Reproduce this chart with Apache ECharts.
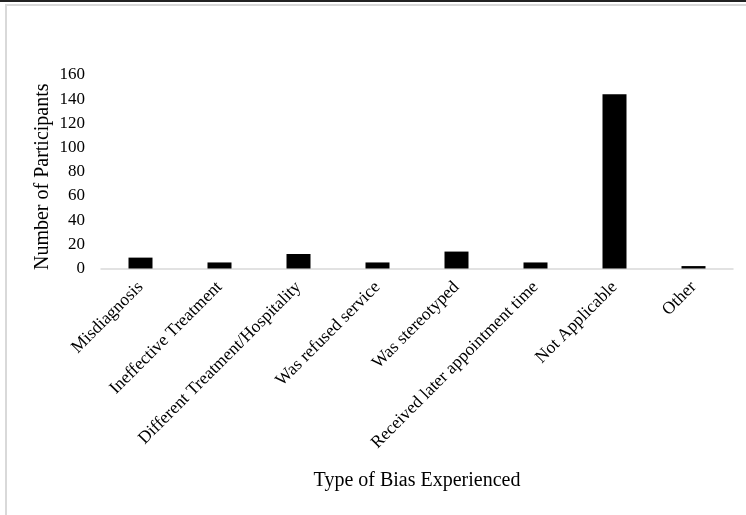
<!DOCTYPE html>
<html>
<head>
<meta charset="utf-8">
<script src="https://cdn.jsdelivr.net/npm/echarts@6/dist/echarts.min.js"></script>
<style>html,body{margin:0;padding:0;background:#fff;}#c{width:746px;height:515px;}</style>
</head>
<body>
<div id="c"></div>
<script>
var categories = ["Misdiagnosis", "Ineffective Treatment", "Different Treatment/Hospitality", "Was refused service", "Was stereotyped", "Received later appointment time", "Not Applicable", "Other"];
var values = [9, 5, 12, 5, 14, 5, 144, 2];
var yTicks = [0, 20, 40, 60, 80, 100, 120, 140, 160];
var xTitle = "Type of Bias Experienced";
var yTitle = "Number of Participants";

var font = "'Liberation Serif', 'Times New Roman', serif";
var chart = echarts.init(document.getElementById('c'), null, {renderer: 'canvas'});
chart.setOption({
  animation: false,
  backgroundColor: '#fff',
  graphic: [
    {type: 'rect', shape: {x: 0, y: 0, width: 746, height: 2}, style: {fill: '#222'}},
    {type: 'rect', shape: {x: 5, y: 4, width: 741, height: 2}, style: {fill: '#d9d9d9'}},
    {type: 'rect', shape: {x: 5, y: 4, width: 2, height: 511}, style: {fill: '#d9d9d9'}}
  ],
  grid: {left: 101, right: 13, top: 75, bottom: 246.5, containLabel: false},
  xAxis: {
    type: 'category',
    data: categories,
    name: xTitle,
    nameLocation: 'middle',
    nameGap: 202,
    nameTextStyle: {fontFamily: font, fontSize: 20, color: '#000'},
    axisLine: {lineStyle: {color: '#d9d9d9', width: 1.5}},
    axisTick: {show: false},
    axisLabel: {rotate: 45, fontFamily: font, fontSize: 17.5, color: '#000', margin: 16, interval: 0}
  },
  yAxis: {
    type: 'value',
    min: yTicks[0],
    max: yTicks[yTicks.length - 1],
    interval: yTicks[1] - yTicks[0],
    name: yTitle,
    nameLocation: 'middle',
    nameMoveOverlap: false,
    nameGap: 48,
    nameTextStyle: {fontFamily: font, fontSize: 20, color: '#000', padding: [0, 10, 0, 0]},
    axisLine: {show: false},
    axisTick: {show: false},
    splitLine: {show: false},
    axisLabel: {fontFamily: font, fontSize: 17, color: '#000', margin: 16}
  },
  series: [{
    type: 'bar',
    data: values,
    barWidth: 24,
    itemStyle: {color: '#000'}
  }]
});
</script>
</body>
</html>
